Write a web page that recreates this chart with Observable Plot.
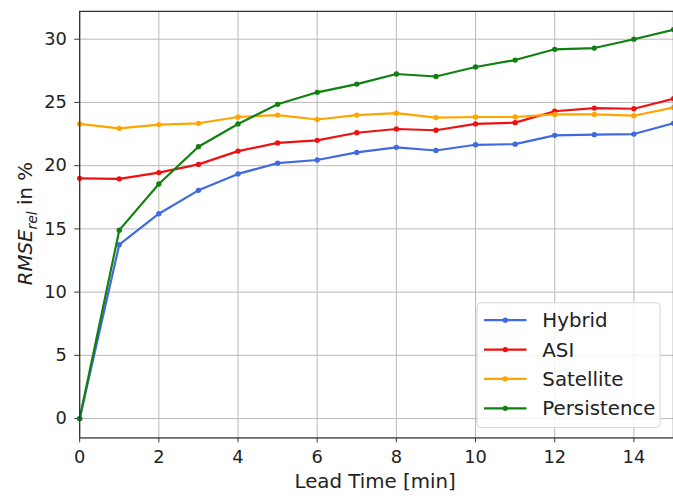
<!DOCTYPE html>
<html>
<head>
<meta charset="utf-8">
<script src="https://cdn.jsdelivr.net/npm/d3@7"></script>
<script src="https://cdn.jsdelivr.net/npm/@observablehq/plot@0.6"></script>
<style>
  html, body { margin: 0; padding: 0; overflow: hidden; background: #fff; }
  #chart { width: 673px; height: 498px; overflow: hidden; }
</style>
</head>
<body>
<div id="chart"></div>
<script>
// ---- data ----
const leadTime = [0, 1, 2, 3, 4, 5, 6, 7, 8, 9, 10, 11, 12, 13, 14, 15];
const hybrid      = [0, 13.75, 16.2, 18.05, 19.35, 20.2, 20.45, 21.05, 21.45, 21.2, 21.65, 21.7, 22.4, 22.45, 22.5, 23.35];
const asi         = [19.0, 18.95, 19.45, 20.1, 21.15, 21.8, 22.0, 22.6, 22.9, 22.8, 23.3, 23.4, 24.3, 24.55, 24.5, 25.3];
const satellite   = [23.3, 22.95, 23.25, 23.35, 23.85, 24.0, 23.65, 24.0, 24.15, 23.8, 23.85, 23.85, 24.05, 24.05, 23.95, 24.6];
const persistence = [0, 14.9, 18.55, 21.5, 23.3, 24.85, 25.8, 26.45, 27.25, 27.05, 27.8, 28.35, 29.2, 29.3, 30.0, 30.75];

const seriesNames = ["Hybrid", "ASI", "Satellite", "Persistence"];
const seriesColors = ["#4169e1", "#ee1111", "#ffa500", "#108010"];
const xTicks = [0, 2, 4, 6, 8, 10, 12, 14];
const yTicks = [0, 5, 10, 15, 20, 25, 30];
const xLabel = "Lead Time [min]";

// ---- table built from the arrays ----
const seriesValues = [hybrid, asi, satellite, persistence];
const rows = [];
seriesNames.forEach((name, i) => {
  leadTime.forEach((t, j) => rows.push({series: name, t, v: seriesValues[i][j]}));
});

const font = "DejaVu Sans, sans-serif";

const svg = Plot.plot({
  width: 680,
  height: 498,
  marginLeft: 80,
  marginRight: 0,
  marginTop: 11,
  marginBottom: 56,
  style: {fontSize: "18px", fontFamily: font, color: "#222", background: "#fff"},
  x: {domain: [0, 15]},
  y: {domain: [-1.53, 32.2]},
  color: {domain: seriesNames, range: seriesColors},
  marks: [
    Plot.gridX(xTicks, {stroke: "#b8b8b8", strokeOpacity: 1, strokeWidth: 1}),
    Plot.gridY(yTicks, {stroke: "#b8b8b8", strokeOpacity: 1, strokeWidth: 1}),
    Plot.axisX({ticks: xTicks, tickSize: 5, tickPadding: 8, label: null, stroke: "#333"}),
    Plot.axisY({ticks: yTicks, tickSize: 5, tickPadding: 8, label: null, stroke: "#333"}),
    Plot.line(rows, {x: "t", y: "v", z: "series", stroke: "series", strokeWidth: 2.2}),
    Plot.dot(rows, {x: "t", y: "v", fill: "series", r: 2.7}),
    Plot.frame({stroke: "#333", strokeWidth: 1.3})
  ]
});

const s = d3.select(svg);

// x-axis title
s.append("text")
  .attr("x", 379).attr("y", 493)
  .attr("text-anchor", "middle")
  .attr("font-size", 20).attr("font-family", font).attr("fill", "#222")
  .text(xLabel);

// y-axis title with italic subscript
const yl = s.append("text")
  .attr("transform", "translate(32,226) rotate(-90)")
  .attr("text-anchor", "middle")
  .attr("font-size", 20).attr("font-family", font).attr("fill", "#222");
yl.append("tspan").attr("font-style", "italic").text("RMSE");
yl.append("tspan").attr("font-style", "italic").attr("font-size", 14).attr("dy", 5).text("rel");
yl.append("tspan").attr("dy", -5).text(" in %");

// legend
const lg = s.append("g").attr("text-anchor", "start");
lg.append("rect")
  .attr("x", 482).attr("y", 306).attr("width", 185).attr("height", 126)
  .attr("rx", 4).attr("fill", "#fff").attr("fill-opacity", 0.85)
  .attr("stroke", "#d6d6d6").attr("stroke-width", 1);
seriesNames.forEach((name, i) => {
  const yy = 323.5 + i * 29.7;
  lg.append("line").attr("x1", 489).attr("x2", 532).attr("y1", yy).attr("y2", yy)
    .attr("stroke", seriesColors[i]).attr("stroke-width", 2.2);
  lg.append("circle").attr("cx", 510.5).attr("cy", yy).attr("r", 2.7).attr("fill", seriesColors[i]);
  lg.append("text").attr("x", 548).attr("y", yy).attr("dy", "0.36em")
    .attr("text-anchor", "start")
    .attr("font-size", 20).attr("font-family", font).attr("fill", "#222")
    .text(name);
});

document.getElementById("chart").appendChild(svg);
</script>
</body>
</html>
